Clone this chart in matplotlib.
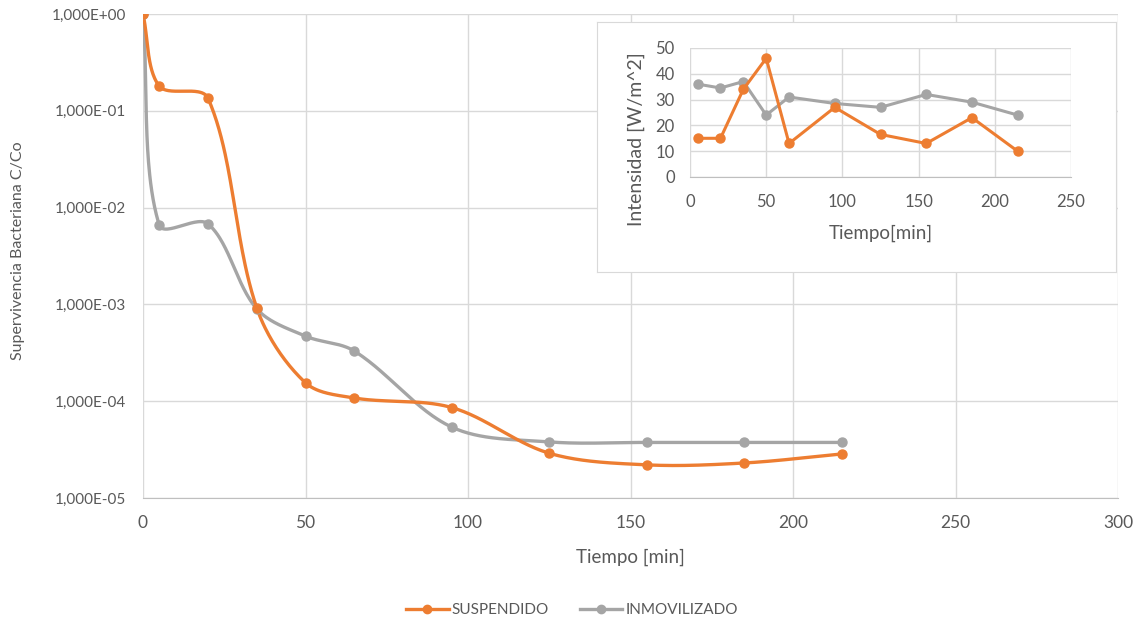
import numpy as np
import matplotlib
matplotlib.use("Agg")
import matplotlib.pyplot as plt
from matplotlib.ticker import FuncFormatter, NullLocator, FixedLocator
from matplotlib.lines import Line2D

plt.rcParams['font.family'] = ['Lato', 'DejaVu Sans']

# Survival data (log scale)
tiempo = [0, 5, 20, 35, 50, 65, 95, 125, 155, 185, 215]
suspendido = [1.0, 0.18, 0.135, 9.2e-4, 1.55e-4, 1.08e-4, 8.6e-5, 2.9e-5, 2.2e-5, 2.3e-5, 2.85e-5]
inmovilizado = [1.0, 6.6e-3, 6.8e-3, 9.0e-4, 4.7e-4, 3.3e-4, 5.4e-5, 3.8e-5, 3.75e-5, 3.75e-5, 3.75e-5]

# Irradiance data for the inset
tiempo_int = [5, 20, 35, 50, 65, 95, 125, 155, 185, 215]
int_suspendido = [15, 15, 34, 46, 13, 27, 16.5, 13, 23, 10]
int_inmovilizado = [36, 34.5, 37, 24, 31, 28.5, 27, 32, 29, 24]

ORANGE = "#ED7D31"
GRAY = "#A5A5A5"
TEXT = "#595959"
GRID = "#D9D9D9"


def smooth(x, y, sx=3.25, sy=96.8, n=50):
    """Bezier curve through the points, tangents weighted by segment length
    (computed in screen-like units: sx per minute, sy per decade)."""
    P = np.column_stack([np.asarray(x, float) * sx, np.log10(np.asarray(y, float)) * sy])
    m = len(P)
    L = np.hypot(*np.diff(P, axis=0).T)
    out = []
    t = np.linspace(0, 1, n)[:, None]
    for i in range(m - 1):
        p1, p2 = P[i], P[i + 1]
        if i == 0:
            c1 = p1 + (p2 - p1) / 3.0
        else:
            d = P[i + 1] - P[i - 1]
            c1 = p1 + d * L[i] / (L[i - 1] + L[i]) / 3.0
        if i + 2 >= m:
            c2 = p2 - (p2 - p1) / 3.0
        else:
            d = P[i + 2] - P[i]
            c2 = p2 - d * L[i] / (L[i] + L[i + 1]) / 3.0
        seg = ((1 - t) ** 3) * p1 + 3 * ((1 - t) ** 2) * t * c1 + 3 * (1 - t) * t ** 2 * c2 + t ** 3 * p2
        out.append(seg if i == 0 else seg[1:])
    s = np.vstack(out)
    return s[:, 0] / sx, 10 ** (s[:, 1] / sy)


fig = plt.figure(figsize=(11.44, 6.21), dpi=100)
ax = fig.add_axes([143 / 1144, 1 - 498 / 621, (1118 - 143) / 1144, (498 - 14) / 621])

for vals, col in [(inmovilizado, GRAY), (suspendido, ORANGE)]:
    cx, cy = smooth(tiempo, vals)
    ax.plot(cx, cy, color=col, lw=2.4, solid_capstyle='round', zorder=3)
    ax.plot(tiempo, vals, 'o', color=col, ms=6.5, zorder=4)

ax.set_yscale('log')
ax.set_ylim(1e-5, 1.0)
ax.set_xlim(0, 300)
ax.yaxis.set_major_locator(FixedLocator([1e-5, 1e-4, 1e-3, 1e-2, 1e-1, 1.0]))
ax.yaxis.set_minor_locator(NullLocator())
ax.yaxis.set_major_formatter(FuncFormatter(lambda v, p: f"{v:.3E}".replace('.', ',')))
ax.set_xticks(np.arange(0, 301, 50))
ax.grid(True, color=GRID, lw=1)
ax.set_axisbelow(True)
for s in ['top', 'right', 'left']:
    ax.spines[s].set_visible(False)
ax.spines['bottom'].set_color('#BFBFBF')
ax.tick_params(length=0, colors=TEXT)
ax.tick_params(axis='x', labelsize=12.5, pad=12)
ax.tick_params(axis='y', labelsize=11, pad=12)
ax.set_xlabel("Tiempo [min]", color=TEXT, fontsize=13.5, va='center')
ax.xaxis.set_label_coords(0.5, (498 - 557) / 484)
ax.set_ylabel("Supervivencia Bacteriana C/Co", color=TEXT, fontsize=11.5, va='center')
ax.yaxis.set_label_coords((18 - 143) / 975, (498 - 251) / 484)

handles = [
    Line2D([], [], color=ORANGE, lw=2.4, marker='o', ms=6),
    Line2D([], [], color=GRAY, lw=2.4, marker='o', ms=6),
]
fig.legend(handles, ["SUSPENDIDO", "INMOVILIZADO"], loc='center', bbox_to_anchor=(0.5, 1 - 610 / 621),
           ncol=2, frameon=False, fontsize=11, labelcolor=TEXT, handlelength=2.8, columnspacing=2.0,
           handletextpad=0.2)

# Inset chart area
bg = fig.add_axes([597 / 1144, 1 - 272 / 621, (1116 - 597) / 1144, (272 - 22) / 621])
bg.set_xticks([])
bg.set_yticks([])
bg.set_facecolor('white')
for s in bg.spines.values():
    s.set_color(GRID)

ins = fig.add_axes([690 / 1144, 1 - 177 / 621, (1071 - 690) / 1144, (177 - 48) / 621])
ins.plot(tiempo_int, int_inmovilizado, '-o', color=GRAY, lw=2.2, ms=6.5, zorder=3)
ins.plot(tiempo_int, int_suspendido, '-o', color=ORANGE, lw=2.2, ms=6.5, zorder=4)
ins.set_xlim(0, 250)
ins.set_ylim(0, 50)
ins.set_xticks(np.arange(0, 251, 50))
ins.set_yticks(np.arange(0, 51, 10))
ins.grid(True, color=GRID, lw=1)
ins.set_axisbelow(True)
for s in ins.spines.values():
    s.set_visible(False)
ins.spines['bottom'].set_visible(True)
ins.spines['bottom'].set_color('#BFBFBF')
ins.tick_params(length=0, colors=TEXT, labelsize=12)
ins.tick_params(axis='x', pad=12)
ins.tick_params(axis='y', pad=11)
ins.set_xlabel("Tiempo[min]", color=TEXT, fontsize=13.5, va='center')
ins.xaxis.set_label_coords(0.5, (177 - 233) / 129)
ins.set_ylabel("Intensidad [W/m^2]", color=TEXT, fontsize=14, va='center')
ins.yaxis.set_label_coords((636 - 690) / 381, (177 - 139) / 129)

fig.savefig("out.png", dpi=100, facecolor='white')
